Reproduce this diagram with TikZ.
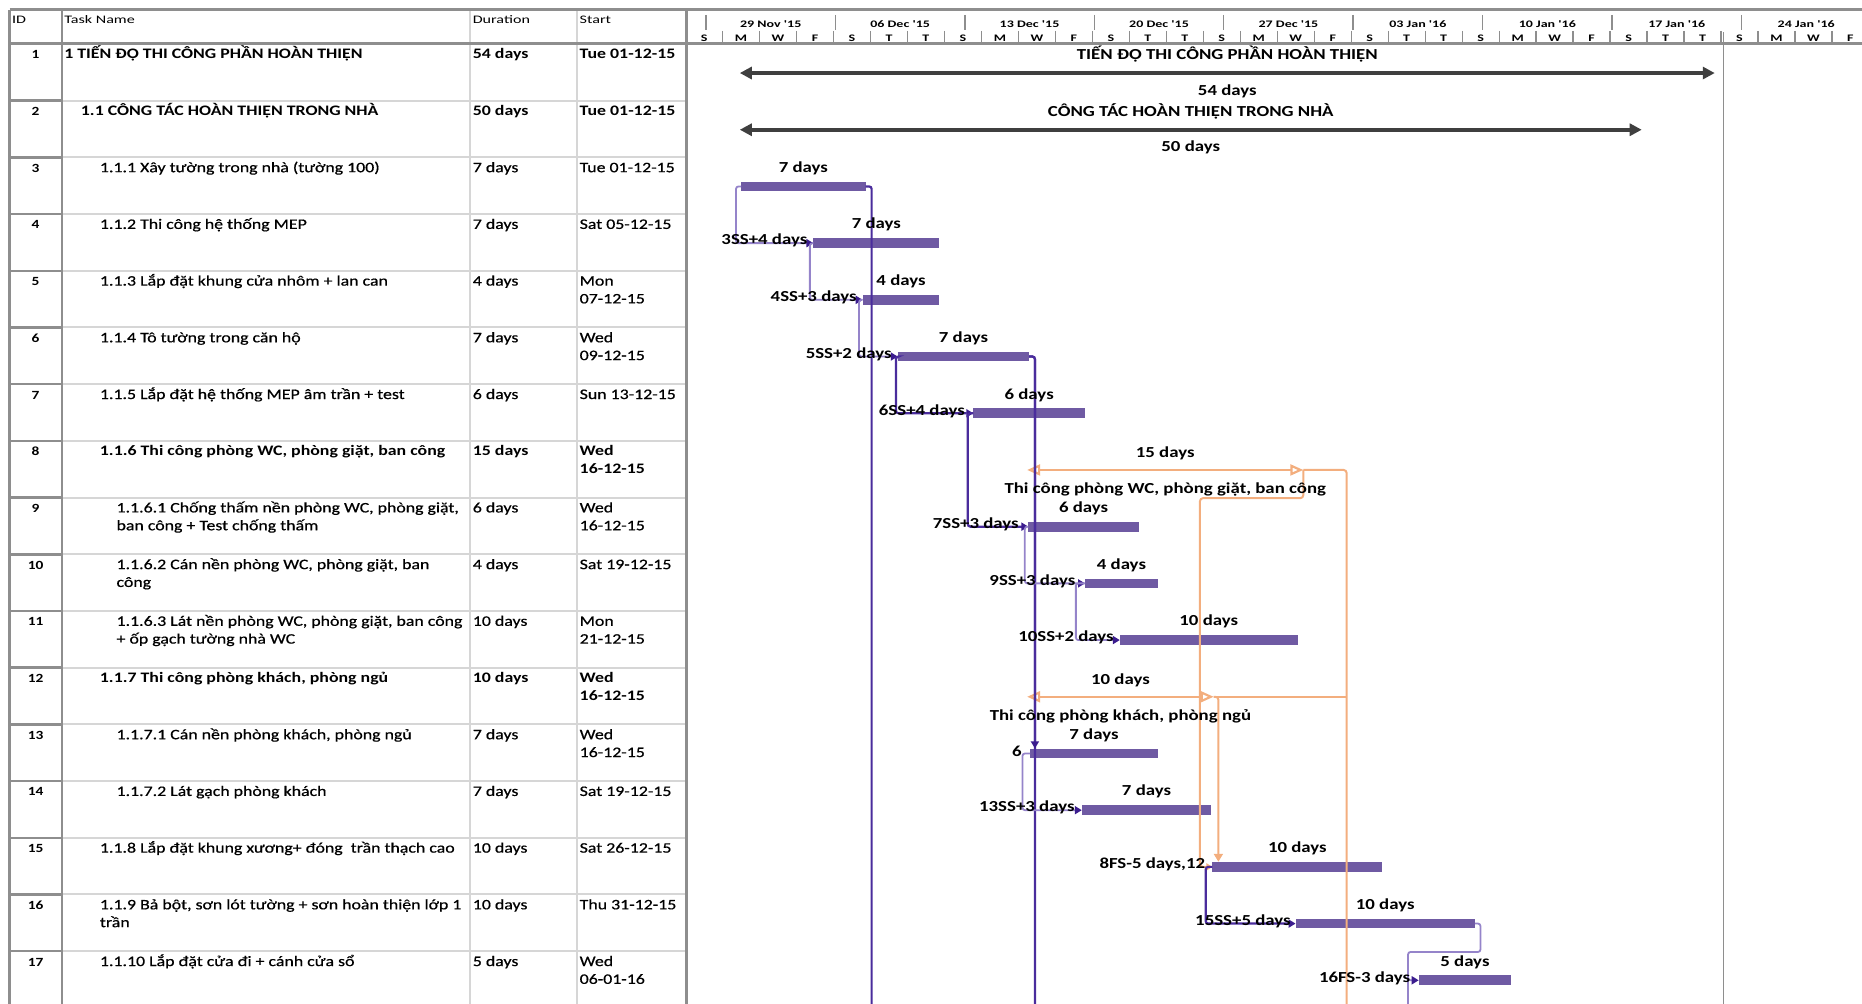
\documentclass[tikz,border=0pt]{standalone}
\usepackage{fontspec}
\setmainfont{Carlito}[FakeStretch=1.23, UprightFeatures={FakeBold=0.6}]
\newfontfamily\hdrfont{Carlito}[FakeStretch=1.4]
\usetikzlibrary
  {
    arrows.meta, % triangle tips on summaries and links
    calc,        % points next to the bar ends
  }

\definecolor{barpurple}{HTML}{6F5AA3}
\definecolor{linklight}{HTML}{9584CA}
\definecolor{linkdark}{HTML}{4A2C9C}
\definecolor{tippurple}{HTML}{3B1C8E}
\definecolor{sumorange}{HTML}{F3AE7E}
\definecolor{sumblack}{HTML}{3F3F3F}
\definecolor{gridgray}{HTML}{8E8E8E}
\definecolor{rowgray}{HTML}{D6D6D6}

\newcommand\bodysize{\fontsize{14.5}{17.8}\selectfont}
\newcommand\chartsize{\fontsize{15.3}{18}\selectfont}
\newcommand\celltext[1]{\begin{tabular}[t]{@{}l@{}}#1\end{tabular}}

\tikzset{
  cell/.style={anchor=base west, inner sep=0pt, font=\bodysize},
  idcell/.style={anchor=base, inner sep=0pt, font=\fontsize{12.5}{15}\selectfont\bfseries},
  hdr/.style={anchor=base west, inner sep=0pt, font=\hdrfont\fontsize{11.5}{13}\selectfont},
  tier/.style={anchor=base, inner sep=0pt, font=\hdrfont\bfseries\fontsize{10}{12}\selectfont},
  barlabel/.style={anchor=base, inner sep=0pt, font=\chartsize\bfseries},
  linklabel/.style={anchor=east, inner sep=0pt, font=\chartsize\bfseries},
  ganttbar/.style={fill=barpurple},
  sslink/.style={draw=linklight, line width=1.8pt, rounded corners=2.5pt,
    -{Triangle[length=7pt,width=8pt,color=tippurple]}},
  fslink/.style={sslink, draw=linkdark, line width=2.2pt},
  sumline/.style={draw=sumblack, line width=4pt,
    {Triangle[length=12pt,width=12pt]}-{Triangle[length=12pt,width=12pt]}},
  orline/.style={draw=sumorange, line width=2.2pt,
    {Triangle[open,length=13pt,width=11pt]}-{Triangle[open,length=13pt,width=11pt]}},
  orlink/.style={draw=sumorange, line width=2pt, rounded corners=3pt},
}

\begin{document}
\begin{tikzpicture}[x=1.1875pt, y=-1.1875pt]
  \useasboundingbox (0,0) rectangle (1568,845);
  \clip (0,0) rectangle (1568,845);

  % table grid
  \foreach \i in {1,...,16}
    \draw[rowgray, line width=2pt] (52,{37+47.75*\i}) -- (578,{37+47.75*\i});
  \foreach \i in {1,...,16}
    \draw[gridgray, line width=2.5pt] (8,{37+47.75*\i}) -- (52,{37+47.75*\i});
  \draw[rowgray, line width=2pt] (396,8) -- (396,850);
  \draw[rowgray, line width=2pt] (486,8) -- (486,850);
  \draw[gridgray, line width=2.5pt] (52,8) -- (52,850);
  \draw[gridgray, line width=3pt] (8,8) -- (8,850);
  \draw[gridgray, line width=3pt] (578,8) -- (578,850);
  \draw[gridgray, line width=3pt] (8,8) -- (1568,8);
  \draw[gridgray, line width=3pt] (8,37) -- (1568,37);

  % column heads
  \node[hdr] (hid) at (10,19.5) {ID};
  \node[hdr] (hname) at (54,19.5) {Task Name};
  \node[hdr] (hdur) at (398,19.5) {Duration};
  \node[hdr] (hstart) at (488,19.5) {Start};

  % timescale
  \foreach \k/\wk in {0/29 Nov '15, 1/06 Dec '15, 2/13 Dec '15, 3/20 Dec '15, 4/27 Dec '15,
      5/03 Jan '16, 6/10 Jan '16, 7/17 Jan '16, 8/24 Jan '16}
  {
    \draw[gridgray, line width=1.5pt] ({594.5+109*\k},12.5) -- ++(0,12.5);
    \node[tier] (wk\k) at ({649+109*\k},22.8) {\wk};
  }
  \foreach \j in {0,...,30}
    \draw[gridgray, line width=1.3pt] ({608.5+31.14*\j},26) -- ++(0,10);
  \foreach \j [evaluate=\j as \m using {int(mod(\j,7))}] in {0,...,31}
    \node[tier] (dy\j) at ({592.9+31.14*\j},34.8)
      {\ifcase\m S\or M\or W\or F\or S\or T\or T\fi};
  \draw[gridgray, line width=1.5pt] (1451.5,27) -- (1451.5,850);

  % task rows
  \foreach \i/\ind/\wt/\name/\dur/\start in {
      1/54/\bfseries/{1 TIẾN ĐỘ THI CÔNG PHẦN HOÀN THIỆN}/54 days/Tue 01-12-15,
      2/68/\bfseries/{1.1 CÔNG TÁC HOÀN THIỆN TRONG NHÀ}/50 days/Tue 01-12-15,
      3/84/\mdseries/{1.1.1 Xây tường trong nhà (tường 100)}/7 days/Tue 01-12-15,
      4/84/\mdseries/{1.1.2 Thi công hệ thống MEP}/7 days/Sat 05-12-15,
      5/84/\mdseries/{1.1.3 Lắp đặt khung cửa nhôm + lan can}/4 days/{Mon\\07-12-15},
      6/84/\mdseries/{1.1.4 Tô tường trong căn hộ}/7 days/{Wed\\09-12-15},
      7/84/\mdseries/{1.1.5 Lắp đặt hệ thống MEP âm trần + test}/6 days/Sun 13-12-15,
      8/84/\bfseries/{1.1.6 Thi công phòng WC, phòng giặt, ban công}/15 days/{Wed\\16-12-15},
      9/98/\mdseries/{1.1.6.1 Chống thấm nền phòng WC, phòng giặt,\\ban công + Test chống thấm}/6 days/{Wed\\16-12-15},
      10/98/\mdseries/{1.1.6.2 Cán nền phòng WC, phòng giặt, ban\\công}/4 days/Sat 19-12-15,
      11/98/\mdseries/{1.1.6.3 Lát nền phòng WC, phòng giặt, ban công\\+ ốp gạch tường nhà WC}/10 days/{Mon\\21-12-15},
      12/84/\bfseries/{1.1.7 Thi công phòng khách, phòng ngủ}/10 days/{Wed\\16-12-15},
      13/98/\mdseries/{1.1.7.1 Cán nền phòng khách, phòng ngủ}/7 days/{Wed\\16-12-15},
      14/98/\mdseries/{1.1.7.2 Lát gạch phòng khách}/7 days/Sat 19-12-15,
      15/84/\mdseries/{1.1.8 Lắp đặt khung xương+ đóng\ \ trần thạch cao}/10 days/Sat 26-12-15,
      16/84/\mdseries/{1.1.9 Bả bột, sơn lót tường + sơn hoàn thiện lớp 1\\trần}/10 days/Thu 31-12-15,
      17/84/\mdseries/{1.1.10 Lắp đặt cửa đi + cánh cửa sổ}/5 days/{Wed\\06-01-16}}
  {
    \pgfmathsetmacro\yb{49.5+47.75*(\i-1)}
    \node[idcell] (id\i) at (30,\yb) {\i};
    \node[cell] (tn\i) at (\ind,\yb) {\wt\celltext{\name}};
    \node[cell] (du\i) at (398,\yb) {\wt\dur};
    \node[cell] (st\i) at (488,\yb) {\wt\celltext{\start}};
  }

  % bars
  \foreach \i/\xa/\xb in {3/624/729, 4/685/791, 5/726.5/791, 6/756/866.7, 7/819.6/913.7,
      9/866/959, 10/913.7/975, 11/943/1092.8, 13/867.5/975, 14/911/1020,
      15/1021/1164, 16/1091/1242, 17/1194.7/1272.5}
  {
    \coordinate (s\i) at (\xa,{13.75+47.75*\i});
    \coordinate (e\i) at (\xb,{13.75+47.75*\i});
    \fill[ganttbar] ($(s\i)+(0,-4.1)$) rectangle ($(e\i)+(0,4.1)$);
  }

  % summary tasks
  \coordinate (a1) at (623,61.5);
  \coordinate (b1) at (1444,61.5);
  \coordinate (a2) at (623,109.25);
  \coordinate (b2) at (1382.5,109.25);
  \coordinate (a8) at (865,395.75);
  \coordinate (b8) at (1097.5,395.75);
  \coordinate (a12) at (865,586.75);
  \coordinate (b12) at (1022,586.75);
  \draw[sumline] (a1) -- (b1);
  \draw[sumline] (a2) -- (b2);
  \draw[orline] (a8) -- (b8);
  \draw[orline] (a12) -- (b12);

  % links out of the summary tasks
  \coordinate (off8) at (1134,850);
  \coordinate (k15) at ($(s15)+(-10.5,0)$);
  \coordinate (t15) at ($(s15)+(5,-4.3)$);
  \draw[orlink] (b8) -| (off8);
  \draw[orlink] (b12) -- (b12 -| off8);
  \draw[orlink, -{Triangle[length=6pt,width=7pt]}] (b8) -- ++(0,23.75) -| (k15) -- (s15);
  \draw[orlink, -{Triangle[length=8pt,width=9pt]}] (b12) -| (t15);

  % links between tasks
  \coordinate (off3) at (734,850);
  \coordinate (off6) at (871.5,850);
  \coordinate (t13) at ($(s13)+(4,-4.3)$);
  \coordinate (k17) at ($(s17)+(-9,0)$);
  \coordinate (off17) at ($(k17)+(0,30)$);
  \draw[fslink, -] (e3) -| (off3);
  \draw[fslink, -] (e6) -| (off6);
  \draw[fslink] (e6) -| (t13);
  \draw[sslink] (s3) -- ++(-4.2,0) |- (s4);
  \draw[sslink] (s4) -- ++(-3,0) |- (s5);
  \draw[sslink] (s5) -- ++(-3.1,0) |- (s6);
  \draw[fslink] (s6) -- ++(-1.5,0) |- (s7);
  \draw[fslink] (s7) -- ++(-4.6,0) |- (s9);
  \draw[sslink] (s9) -- ++(-3,0) |- (s10);
  \draw[sslink] (s10) -- ++(-7.7,0) |- (s11);
  \draw[sslink] (s13) -- ++(-6.5,0) |- (s14);
  \draw[fslink] (s15) -- ++(-5.7,0) |- (s16);
  \draw[sslink] (e16) -- ++(4.7,0) -- ++(0,23.9) -| (k17) -- (s17);
  \draw[sslink, -] (k17) -- (off17);

  % labels
  \node[barlabel] (n1) at ($(a1)!0.5!(b1)+(0,-11)$) {TIẾN ĐỘ THI CÔNG PHẦN HOÀN THIỆN};
  \node[barlabel] (l1) at ($(a1)!0.5!(b1)+(0,18.5)$) {54 days};
  \node[barlabel] (n2) at ($(a2)!0.5!(b2)+(0,-11)$) {CÔNG TÁC HOÀN THIỆN TRONG NHÀ};
  \node[barlabel] (l2) at ($(a2)!0.5!(b2)+(0,18.5)$) {50 days};
  \node[barlabel] (l8) at ($(a8)!0.5!(b8)+(0,-10.25)$) {15 days};
  \node[barlabel] (n8) at ($(a8)!0.5!(b8)+(0,20)$) {Thi công phòng WC, phòng giặt, ban công};
  \node[barlabel] (l12) at ($(a12)!0.5!(b12)+(0,-10.25)$) {10 days};
  \node[barlabel] (n12) at ($(a12)!0.5!(b12)+(0,20)$) {Thi công phòng khách, phòng ngủ};
  \foreach \i/\dur in {3/7, 4/7, 5/4, 6/7, 7/6, 9/6, 10/4, 11/10, 13/7, 14/7, 15/10, 16/10, 17/5}
    \node[barlabel] (bl\i) at ($(s\i)!0.5!(e\i)+(0,-12)$) {\dur\ days};
  \foreach \t/\txt/\dx in {4/3SS+4 days/5, 5/4SS+3 days/5, 6/5SS+2 days/5, 7/6SS+4 days/7,
      9/7SS+3 days/8, 10/9SS+3 days/8, 11/10SS+2 days/5, 13/6/7, 14/13SS+3 days/6,
      15/{8FS-5 days,12}/6, 16/15SS+5 days/4, 17/16FS-3 days/7}
    \node[linklabel] (lk\t) at ($(s\t)+(-\dx,-2)$) {\txt};
\end{tikzpicture}
\end{document}
